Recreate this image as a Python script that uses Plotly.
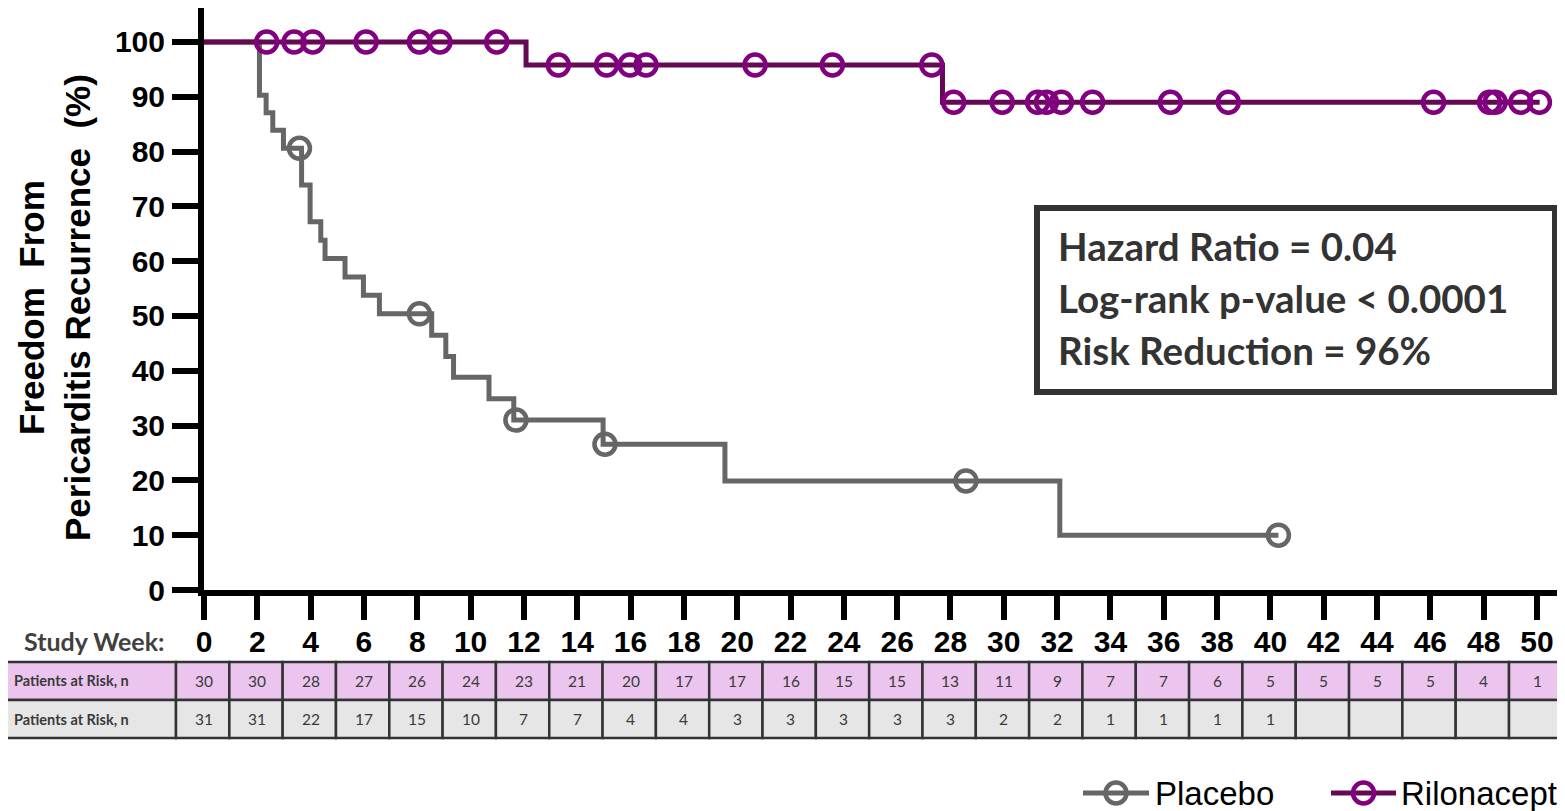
import plotly.graph_objects as go

# ---------------- data ----------------
placebo_t = [0, 2.08, 2.33, 2.58, 2.98, 3.66, 3.98, 4.38, 4.54, 5.29, 5.98, 6.58,
             8.54, 9.07, 9.36, 10.69, 11.62, 14.97, 19.54, 32.1, 40.3]
placebo_s = [100, 90.3, 87.1, 83.9, 80.6, 73.9, 67.2, 63.8, 60.5, 57.1, 53.8, 50.4,
             46.5, 42.6, 38.8, 34.9, 31.0, 26.6, 19.9, 10.0, 10.0]
placebo_cens_t = [3.58, 8.08, 11.7, 15.04, 28.58, 40.3]
placebo_cens_s = [80.6, 50.4, 31.0, 26.6, 19.9, 10.0]

rilo_t = [0, 12.08, 27.7, 50.1]
rilo_s = [100, 95.8, 89.0, 89.0]
rilo_cens_t = [2.35, 3.38, 4.08, 6.08, 8.08, 8.85, 10.98,
               13.29, 15.1, 15.98, 16.58, 20.67, 23.57, 27.3,
               28.12, 29.94, 31.27, 31.6, 32.16, 33.33, 36.25, 38.42, 46.12, 48.22, 48.43, 49.39, 50.09]
rilo_cens_s = [100] * 7 + [95.8] * 7 + [89.0] * 13

study_weeks = list(range(0, 51, 2))
rilo_at_risk = [30, 30, 28, 27, 26, 24, 23, 21, 20, 17, 17, 16, 15, 15, 13, 11, 9, 7, 7, 6, 5, 5, 5, 5, 4, 1]
placebo_at_risk = [31, 31, 22, 17, 15, 10, 7, 7, 4, 4, 3, 3, 3, 3, 3, 2, 2, 1, 1, 1, 1, None, None, None, None, None]
row_labels = ["Patients at Risk, n", "Patients at Risk, n"]
stats_lines = ["Hazard Ratio = 0.04", "Log-rank p-value < 0.0001", "Risk Reduction = 96%"]
y_ticks = list(range(0, 101, 10))

# ---------------- layout geometry ----------------
# page body has an 8px margin, so figure pixel = screen pixel - 8
OFF = 8
W, H = 1557, 803
L, R, T = 196, 0, 0
PLOT_BOTTOM = 582
B = H - PLOT_BOTTOM
XMIN, XMAX = 0, 51.05
YMIN, YMAX = 0, 106.2
PW = W - L - R
PH = H - T - B


def px(xs):
    """screen x pixel -> paper x"""
    return (xs - OFF - L) / PW


def py(ys):
    """screen y pixel -> paper y"""
    return (H - B - (ys - OFF)) / PH


def wk2px(w):
    """week -> screen x pixel"""
    return OFF + L + (w - XMIN) / (XMAX - XMIN) * PW


GRAY = "#666666"
PURPLE_LINE = "#650A52"
PURPLE_MK = "#800080"
DARK = "#333333"
TXT = "#3a3a3a"

fig = go.Figure()

fig.add_trace(go.Scatter(x=placebo_t, y=placebo_s, mode="lines", line=dict(color=GRAY, width=5, shape="hv"),
                         showlegend=False, hoverinfo="skip"))
fig.add_trace(go.Scatter(x=placebo_cens_t, y=placebo_cens_s, mode="markers", cliponaxis=False,
                         marker=dict(symbol="circle-open", size=21, color=GRAY, line=dict(width=4.5, color=GRAY)),
                         name="Placebo", showlegend=False))
fig.add_trace(go.Scatter(x=rilo_t, y=rilo_s, mode="lines", line=dict(color=PURPLE_LINE, width=5, shape="hv"),
                         showlegend=False, hoverinfo="skip"))
fig.add_trace(go.Scatter(x=rilo_cens_t, y=rilo_cens_s, mode="markers", cliponaxis=False,
                         marker=dict(symbol="circle-open", size=21, color=PURPLE_MK,
                                     line=dict(width=4.5, color=PURPLE_MK)),
                         name="Rilonacept", showlegend=False))

shapes = []
annotations = []

# ---------------- risk table ----------------
row_y = [(662, 700), (700, 738)]
row_fill = ["#EBC5EE", "#E6E6E6"]
for r in range(2):
    y0, y1 = row_y[r]
    shapes.append(dict(type="rect", xref="paper", yref="paper", x0=px(0), x1=px(wk2px(-1.05)),
                       y0=py(y1), y1=py(y0), fillcolor=row_fill[r], line=dict(color=DARK, width=2.5), layer="below"))
    for w in study_weeks:
        shapes.append(dict(type="rect", xref="paper", yref="paper",
                           x0=px(wk2px(w - 1.05)), x1=px(min(wk2px(w + 0.95), 1580)),
                           y0=py(y1), y1=py(y0), fillcolor=row_fill[r], line=dict(color=DARK, width=2.5),
                           layer="below"))

for r, vals in enumerate([rilo_at_risk, placebo_at_risk]):
    yc = (row_y[r][0] + row_y[r][1]) / 2
    for w, v in zip(study_weeks, vals):
        if v is None:
            continue
        annotations.append(dict(x=w, xref="x", y=py(yc), yref="paper", text=str(v), showarrow=False,
                                xanchor="center", yanchor="middle",
                                font=dict(family="Lato, sans-serif", size=15.5, color=TXT)))

for r in range(2):
    yc = (row_y[r][0] + row_y[r][1]) / 2
    annotations.append(dict(x=px(12), xref="paper", y=py(yc), yref="paper", text=row_labels[r],
                            showarrow=False, xanchor="left", yanchor="middle",
                            font=dict(family="Lato, sans-serif", size=14.5, color=TXT, weight="bold")))

annotations.append(dict(x=px(166), xref="paper", y=py(641), yref="paper", text="Study Week:", showarrow=False,
                        xanchor="right", yanchor="middle",
                        font=dict(family="Lato, sans-serif", size=25, color="#404040", weight="bold")))

# ---------------- y-axis title ----------------
annotations.append(dict(x=px(55), xref="paper", y=py(308), yref="paper",
                        text="Freedom\u00a0 From<br>Pericarditis Recurrence\u00a0 (%)",
                        showarrow=False, textangle=-90, xanchor="center", yanchor="middle",
                        font=dict(family="Liberation Sans, Arial, sans-serif", size=35, color="black",
                                  weight="bold")))

# ---------------- stats box ----------------
shapes.append(dict(type="rect", xref="paper", yref="paper", x0=px(1037), x1=px(1555), y0=py(392), y1=py(208),
                   line=dict(color=DARK, width=6), fillcolor="white"))
for i, t in enumerate(stats_lines):
    annotations.append(dict(x=px(1056), xref="paper", y=py(246 + 52 * i), yref="paper", text=t, showarrow=False,
                            xanchor="left", yanchor="middle",
                            font=dict(family="Lato, sans-serif", size=38.5, color=DARK, weight="bold")))

# ---------------- manual legend ----------------
legend_items = [("Placebo", GRAY, GRAY, 1083, 1149, 1153), ("Rilonacept", PURPLE_LINE, PURPLE_MK, 1331, 1396, 1399)]
ly = 793
for name, lc, mc, x0, x1, tx in legend_items:
    shapes.append(dict(type="line", xref="paper", yref="paper", x0=px(x0), x1=px(x1), y0=py(ly), y1=py(ly),
                       line=dict(color=lc, width=5)))
    cx = (x0 + x1) / 2
    rr = 10.5
    shapes.append(dict(type="circle", xref="paper", yref="paper", x0=px(cx - rr), x1=px(cx + rr),
                       y0=py(ly + rr), y1=py(ly - rr), line=dict(color=mc, width=4.5)))
    annotations.append(dict(x=px(tx), xref="paper", y=py(ly), yref="paper", text=name, showarrow=False,
                            xanchor="left", yanchor="middle",
                            font=dict(family="Liberation Sans, Arial, sans-serif", size=33, color="black")))

fig.update_layout(
    width=W, height=H,
    margin=dict(l=L, r=R, t=T, b=B, pad=0),
    plot_bgcolor="white", paper_bgcolor="white",
    shapes=shapes, annotations=annotations,
    showlegend=False,
    xaxis=dict(range=[XMIN, XMAX], tickvals=study_weeks, showgrid=False, zeroline=False,
               showline=True, linecolor="black", linewidth=6, ticks="outside", ticklen=24, tickwidth=6,
               tickcolor="black", ticklabelstandoff=-4,
               tickfont=dict(family="Liberation Sans, Arial, sans-serif", size=30,
                             color="black", weight="bold")),
    yaxis=dict(range=[YMIN, YMAX], tickvals=y_ticks, showgrid=False, zeroline=False,
               showline=True, linecolor="black", linewidth=6, ticks="outside", ticklen=26, tickwidth=6,
               tickcolor="black", ticklabelstandoff=1,
               tickfont=dict(family="Liberation Sans, Arial, sans-serif", size=30, color="black",
                             weight="bold")),
)

fig.write_html("out.html")
